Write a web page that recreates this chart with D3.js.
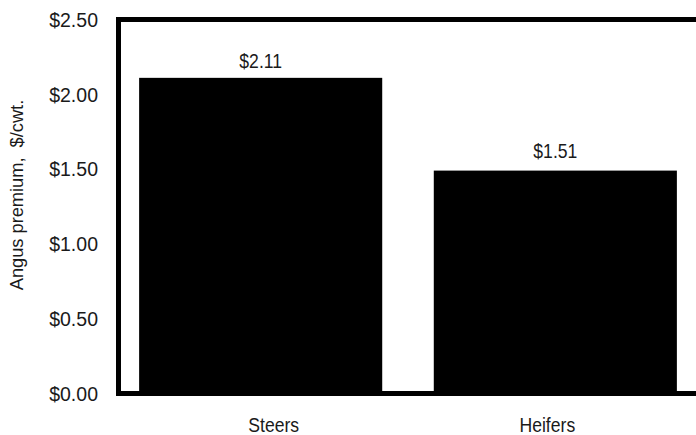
<!DOCTYPE html>
<html>
<head>
<meta charset="utf-8">
<script src="https://cdn.jsdelivr.net/npm/d3@7"></script>
<style>
  html, body { margin: 0; padding: 0; background: #fff; }
  svg { display: block; }
  text { font-family: "Liberation Sans", Arial, sans-serif; fill: #1a1a1a; }
</style>
</head>
<body>
<svg id="chart" width="696" height="435"></svg>
<script>
const categories = ["Steers", "Heifers"];
const barValues = [2.11, 1.49];
const labelValues = [2.11, 1.51];
const labelTexts = ["$2.11", "$1.51"];
const yTicks = [0, 0.5, 1.0, 1.5, 2.0, 2.5];
const yTitle = "Angus premium,  $/cwt.";

(function () {
const svg = d3.select("#chart");
const mLeft = 118.5, mRight = 697.5, mTop = 19.5, mBottom = 393.5;
const sx = 0.88;                 // horizontal condensing of the text
const tx = 0.93;                 // condensing of tick labels
const catShift = [13, -8];       // label offsets seen in the reference

const x = d3.scaleBand().domain(categories).range([mLeft, mRight])
  .paddingInner(0.175).paddingOuter(0.07);
const y = d3.scaleLinear().domain([0, 2.5]).range([mBottom, mTop]);

// bars
svg.append("g").selectAll("rect").data(categories).join("rect")
  .attr("x", d => x(d))
  .attr("width", x.bandwidth())
  .attr("y", (d, i) => y(barValues[i]))
  .attr("height", (d, i) => y(0) - y(barValues[i]))
  .attr("fill", "#000");

// frame
svg.append("rect")
  .attr("x", mLeft).attr("y", mTop)
  .attr("width", mRight + 10 - mLeft).attr("height", mBottom - mTop)
  .attr("fill", "none").attr("stroke", "#000").attr("stroke-width", 5);

const fam = "'Liberation Sans', Arial, sans-serif";

// y axis labels
const yAxis = d3.axisLeft(y).tickValues(yTicks).tickSize(0).tickPadding(20.5)
  .tickFormat(d => "$" + d3.format(".2f")(d));
const gy = svg.append("g").attr("transform", `translate(${mLeft},0)`).call(yAxis);
gy.select(".domain").remove();
gy.selectAll("text").style("font-size", "21px").attr("fill", "#1a1a1a").style("font-family", fam)
  .attr("x", -20.5 / tx).attr("transform", `scale(${tx},1)`);

// x axis labels
const xAxis = d3.axisBottom(x).tickSize(0).tickPadding(24);
const gx = svg.append("g").attr("transform", `translate(0,${mBottom})`).call(xAxis);
gx.select(".domain").remove();
gx.selectAll("text").style("font-size", "20px").attr("fill", "#1a1a1a").style("font-family", fam)
  .attr("x", (d, i) => catShift[i] / sx).attr("transform", `scale(${sx},1)`);

// value labels
svg.append("g").selectAll("text").data(categories).join("text")
  .attr("transform", (d, i) => `translate(${x(d) + x.bandwidth() / 2},${y(labelValues[i]) - 10}) scale(${sx},1)`)
  .attr("text-anchor", "middle")
  .style("font-size", "20px")
  .text((d, i) => labelTexts[i]);

// y title
svg.append("text")
  .attr("transform", `translate(23,195) rotate(-90) scale(0.96,1)`)
  .attr("text-anchor", "middle")
  .attr("xml:space", "preserve")
  .style("white-space", "pre")
  .style("font-size", "19px")
  .text(yTitle);
})();
</script>
</body>
</html>
